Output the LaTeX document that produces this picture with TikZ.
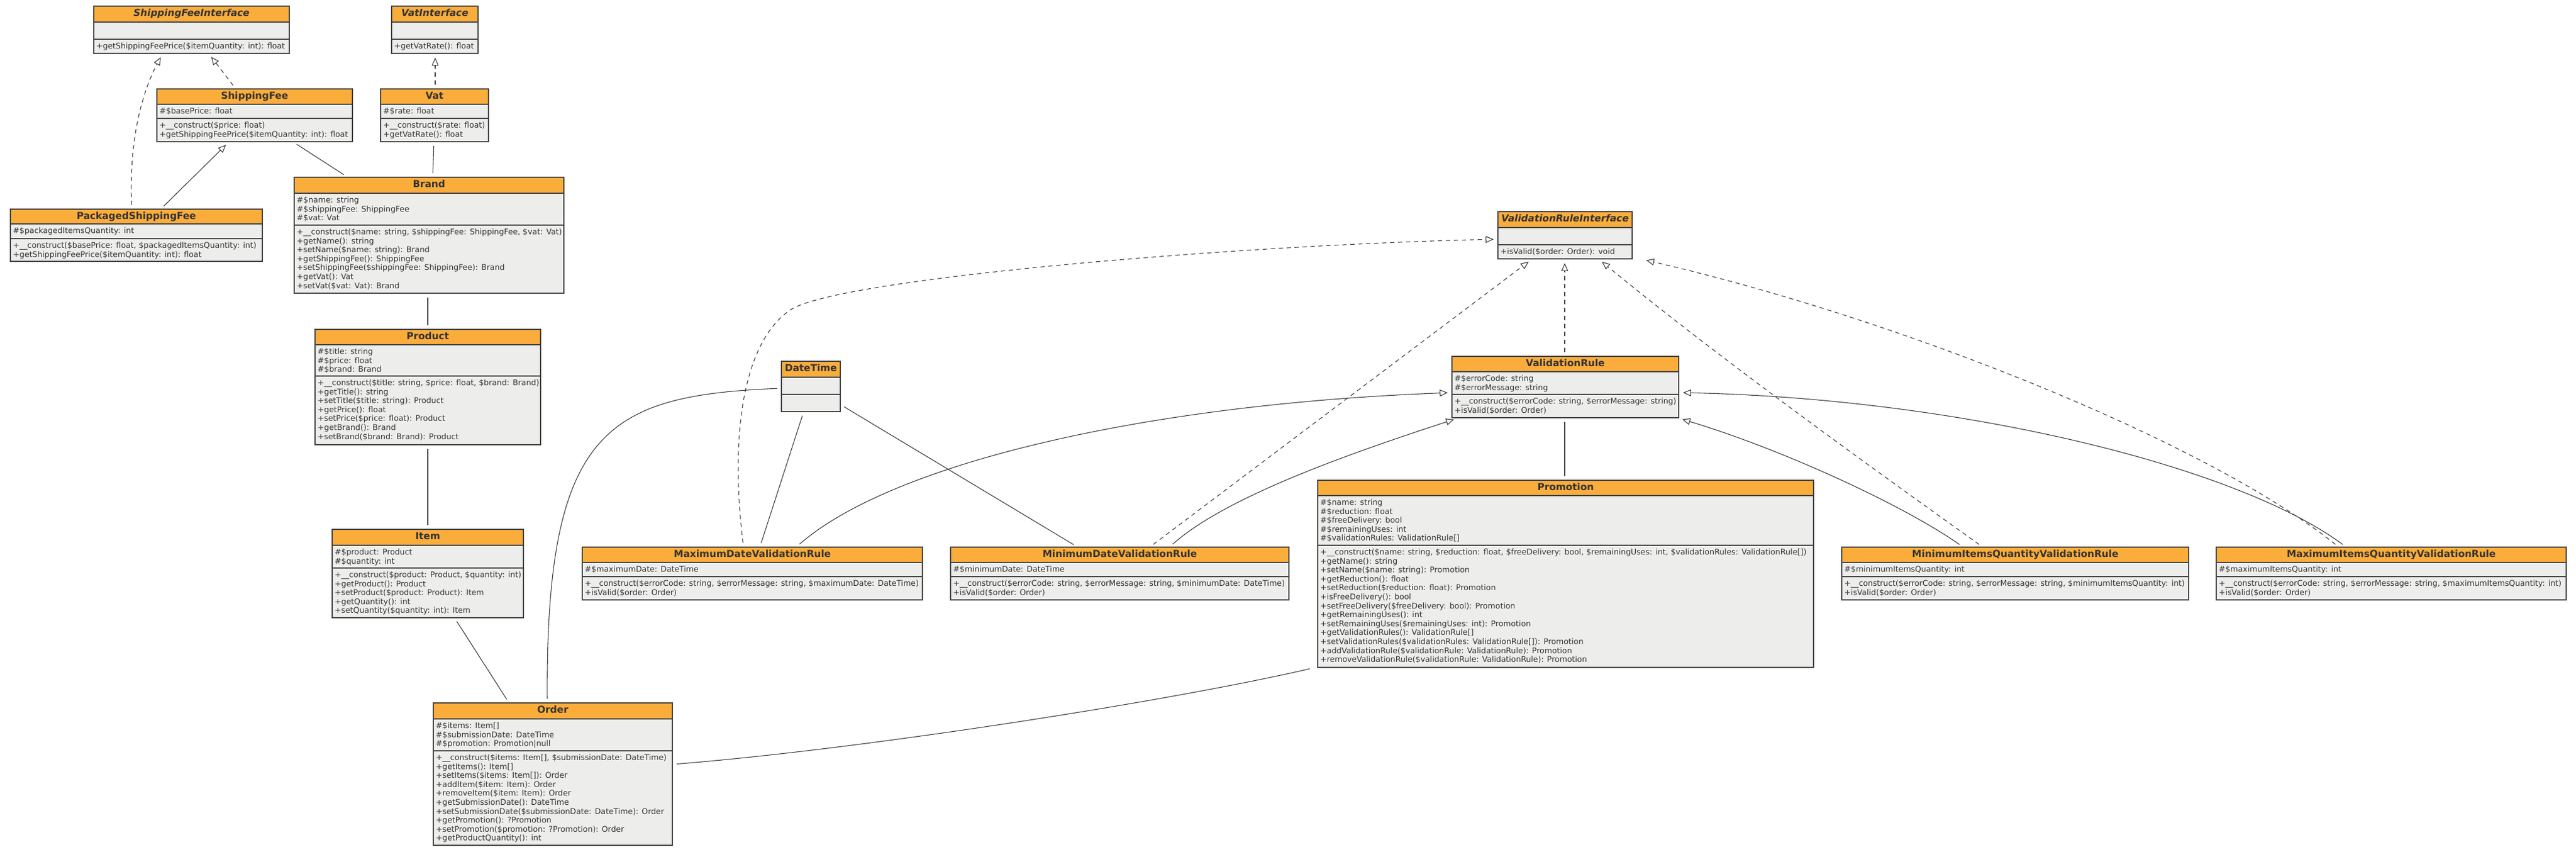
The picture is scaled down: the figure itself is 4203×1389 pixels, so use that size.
\documentclass[tikz,border=0pt]{standalone}
\usepackage{fontspec}
\setmainfont{DejaVu Sans}
\usetikzlibrary{arrows.meta,fit}
\definecolor{headfill}{HTML}{FBAD3C}
\definecolor{bodyfill}{HTML}{EDEDEB}
\definecolor{framec}{HTML}{444444}
\definecolor{textc}{HTML}{333333}
\definecolor{linkc}{HTML}{3A3A3A}
\tikzset{
  classframe/.style={draw=framec, line width=1.8pt, inner sep=0pt},
  classtitle/.style={font=\fontsize{15.7}{18}\selectfont\bfseries, text=textc, anchor=base, inner sep=0pt},
  members/.style={font=\fontsize{12.8}{14.6}\selectfont, text=textc, anchor=north west, align=left, inner sep=0pt},
  link/.style={draw=linkc, line width=1.1pt, shorten <=6pt, shorten >=6pt},
  realize/.style={link, dash pattern=on 7pt off 6pt, -{Triangle[open, length=13pt, width=11pt]}},
  inherit/.style={link, -{Triangle[open, length=13pt, width=11pt]}},
}
% #1 name, #2 x1, #3 x2, #4 ytop, #5 yhead, #6 yattr, #7 ybot, #8 title, #9 attributes
\newcommand\umlclass[9]{%
  \fill[bodyfill] (#2,#4) rectangle (#3,#7);
  \fill[headfill] (#2,#4) rectangle (#3,#5);
  \draw[framec, line width=1.8pt] (#2,#5) -- (#3,#5) (#2,#6) -- (#3,#6);
  \node[classframe, fit={(#2,#4) (#3,#7)}] (#1) {};
  \node[classtitle] (#1-title) at ({(#2+#3)/2},{#4+16.5}) {#8};
  \node[members] (#1-attrs) at ({#2+4},{#5+5}) {\strut #9};
}
% #1 name, #2 x1, #3 yattr, #4 methods
\newcommand\umlmethods[4]{%
  \node[members] (#1-methods) at ({#2+4},{#3+5}) {\strut #4};
}
\begin{document}
\begin{tikzpicture}[x=1pt, y=-1pt]
\useasboundingbox (0,0) rectangle (4203,1389);
\fill[white] (0,0) rectangle (4203,1389);

% ---------- classes ----------
\umlclass{sfi}{153}{472}{10}{36}{64}{87}{\itshape ShippingFeeInterface}{}
\umlmethods{sfi}{153}{64}{+getShippingFeePrice(\$itemQuantity: int): float}

\umlclass{vi}{639}{780}{10}{36}{64}{87}{\itshape VatInterface}{}
\umlmethods{vi}{639}{64}{+getVatRate(): float}

\umlclass{sf}{256}{575}{145}{170}{193}{231}{ShippingFee}{\#\$basePrice: float}
\umlmethods{sf}{256}{193}{+\_\_construct(\$price: float)\\+getShippingFeePrice(\$itemQuantity: int): float}

\umlclass{vat}{621}{797}{145}{170}{193}{231}{Vat}{\#\$rate: float}
\umlmethods{vat}{621}{193}{+\_\_construct(\$rate: float)\\+getVatRate(): float}

\umlclass{psf}{17}{428}{341}{365}{389}{426}{PackagedShippingFee}{\#\$packagedItemsQuantity: int}
\umlmethods{psf}{17}{389}{+\_\_construct(\$basePrice: float, \$packagedItemsQuantity: int)\\+getShippingFeePrice(\$itemQuantity: int): float}

\umlclass{brand}{480}{920}{289}{315}{367}{478}{Brand}{\#\$name: string\\\#\$shippingFee: ShippingFee\\\#\$vat: Vat}
\umlmethods{brand}{480}{367}{+\_\_construct(\$name: string, \$shippingFee: ShippingFee, \$vat: Vat)\\+getName(): string\\+setName(\$name: string): Brand\\+getShippingFee(): ShippingFee\\+setShippingFee(\$shippingFee: ShippingFee): Brand\\+getVat(): Vat\\+setVat(\$vat: Vat): Brand}

\umlclass{product}{514}{882}{537}{562}{613}{725}{Product}{\#\$title: string\\\#\$price: float\\\#\$brand: Brand}
\umlmethods{product}{514}{613}{+\_\_construct(\$title: string, \$price: float, \$brand: Brand)\\+getTitle(): string\\+setTitle(\$title: string): Product\\+getPrice(): float\\+setPrice(\$price: float): Product\\+getBrand(): Brand\\+setBrand(\$brand: Brand): Product}

\umlclass{item}{542}{854}{863}{889}{926}{1007}{Item}{\#\$product: Product\\\#\$quantity: int}
\umlmethods{item}{542}{926}{+\_\_construct(\$product: Product, \$quantity: int)\\+getProduct(): Product\\+setProduct(\$product: Product): Item\\+getQuantity(): int\\+setQuantity(\$quantity: int): Item}

\umlclass{order}{707}{1097}{1146}{1172}{1224}{1378}{Order}{\#\$items: Item[]\\\#\$submissionDate: DateTime\\\#\$promotion: Promotion|null}
\umlmethods{order}{707}{1224}{+\_\_construct(\$items: Item[], \$submissionDate: DateTime)\\+getItems(): Item[]\\+setItems(\$items: Item[]): Order\\+addItem(\$item: Item): Order\\+removeItem(\$item: Item): Order\\+getSubmissionDate(): DateTime\\+setSubmissionDate(\$submissionDate: DateTime): Order\\+getPromotion(): ?Promotion\\+setPromotion(\$promotion: ?Promotion): Order\\+getProductQuantity(): int}

\umlclass{dt}{1275}{1371}{589}{615}{643}{671}{DateTime}{}

\umlclass{maxd}{950}{1505}{892}{917}{940}{978}{MaximumDateValidationRule}{\#\$maximumDate: DateTime}
\umlmethods{maxd}{950}{940}{+\_\_construct(\$errorCode: string, \$errorMessage: string, \$maximumDate: DateTime)\\+isValid(\$order: Order)}

\umlclass{mind}{1551}{2103}{892}{917}{940}{978}{MinimumDateValidationRule}{\#\$minimumDate: DateTime}
\umlmethods{mind}{1551}{940}{+\_\_construct(\$errorCode: string, \$errorMessage: string, \$minimumDate: DateTime)\\+isValid(\$order: Order)}

\umlclass{vri}{2444}{2663}{345}{371}{399}{422}{\itshape ValidationRuleInterface}{}
\umlmethods{vri}{2444}{399}{+isValid(\$order: Order): void}

\umlclass{vr}{2369}{2739}{581}{606}{643}{681}{ValidationRule}{\#\$errorCode: string\\\#\$errorMessage: string}
\umlmethods{vr}{2369}{643}{+\_\_construct(\$errorCode: string, \$errorMessage: string)\\+isValid(\$order: Order)}

\umlclass{promo}{2150}{2959}{783}{808}{889}{1088}{Promotion}{\#\$name: string\\\#\$reduction: float\\\#\$freeDelivery: bool\\\#\$remainingUses: int\\\#\$validationRules: ValidationRule[]}
\umlmethods{promo}{2150}{889}{+\_\_construct(\$name: string, \$reduction: float, \$freeDelivery: bool, \$remainingUses: int, \$validationRules: ValidationRule[])\\+getName(): string\\+setName(\$name: string): Promotion\\+getReduction(): float\\+setReduction(\$reduction: float): Promotion\\+isFreeDelivery(): bool\\+setFreeDelivery(\$freeDelivery: bool): Promotion\\+getRemainingUses(): int\\+setRemainingUses(\$remainingUses: int): Promotion\\+getValidationRules(): ValidationRule[]\\+setValidationRules(\$validationRules: ValidationRule[]): Promotion\\+addValidationRule(\$validationRule: ValidationRule): Promotion\\+removeValidationRule(\$validationRule: ValidationRule): Promotion}

\umlclass{minq}{3005}{3571}{892}{917}{940}{978}{MinimumItemsQuantityValidationRule}{\#\$minimumItemsQuantity: int}
\umlmethods{minq}{3005}{940}{+\_\_construct(\$errorCode: string, \$errorMessage: string, \$minimumItemsQuantity: int)\\+isValid(\$order: Order)}

\umlclass{maxq}{3616}{4187}{892}{917}{940}{978}{MaximumItemsQuantityValidationRule}{\#\$maximumItemsQuantity: int}
\umlmethods{maxq}{3616}{940}{+\_\_construct(\$errorCode: string, \$errorMessage: string, \$maximumItemsQuantity: int)\\+isValid(\$order: Order)}

% ---------- connectors ----------
\draw[realize] (215,0 |- psf.north) .. controls (210,230) and (232,150) .. (265,0 |- sfi.south);
\draw[realize] (384,0 |- sf.north) -- (341,0 |- sfi.south);
\draw[realize] (710,0 |- vat.north) -- (710,0 |- vi.south);
\draw[inherit] (263,0 |- psf.north) -- (373,0 |- sf.south);
\draw[link] (479,0 |- sf.south) -- (566,0 |- brand.north);
\draw[link] (708,0 |- vat.south) -- (706,0 |- brand.north);
\draw[link] (698,0 |- brand.south) -- (698,0 |- product.north);
\draw[link] (698,0 |- product.south) -- (698,0 |- item.north);
\draw[link] (742,0 |- item.south) -- (830,0 |- order.north);
\draw[link] (dt.west |- 0,633) .. controls (990,645) and (890,700) .. (893,0 |- order.north);
\draw[link] (order.east |- 0,1246) .. controls (1400,1222) and (1900,1145) .. (2143,0 |- promo.south);
\draw[link] (1311,0 |- dt.south) -- (1240,0 |- maxd.north);
\draw[link] (dt.east |- 0,660) -- (1757,0 |- mind.north);
\draw[realize] (1877,0 |- mind.north) -- (2499,0 |- vri.south);
\coordinate (bend) at (1290,505);
\draw[realize] (1213,0 |- maxd.north) .. controls (1190,700) and (1215,555) .. (bend) .. controls (1365,455) and (2000,400) .. (vri.west |- 0,390);
\draw[inherit] (1300,0 |- maxd.north) .. controls (1450,760) and (1850,660) .. (vr.west |- 0,640);
\draw[inherit] (1909,0 |- mind.north) .. controls (2000,810) and (2200,740) .. (2378,0 |- vr.south);
\draw[link] (2553,0 |- vr.south) -- (2553,0 |- promo.north);
\draw[realize] (2553,0 |- vr.north) -- (2553,0 |- vri.south);
\draw[inherit] (3202,0 |- minq.north) .. controls (3100,820) and (2900,730) .. (2739,0 |- vr.south);
\draw[realize] (3234,0 |- minq.north) .. controls (3050,760) and (2800,580) .. (2609,0 |- vri.south);
\draw[inherit] (3827,0 |- maxq.north) .. controls (3650,760) and (3200,650) .. (vr.east |- 0,640);
\draw[realize] (3815,0 |- maxq.north) .. controls (3600,720) and (3100,520) .. (2680,0 |- vri.south);
\end{tikzpicture}
\end{document}
